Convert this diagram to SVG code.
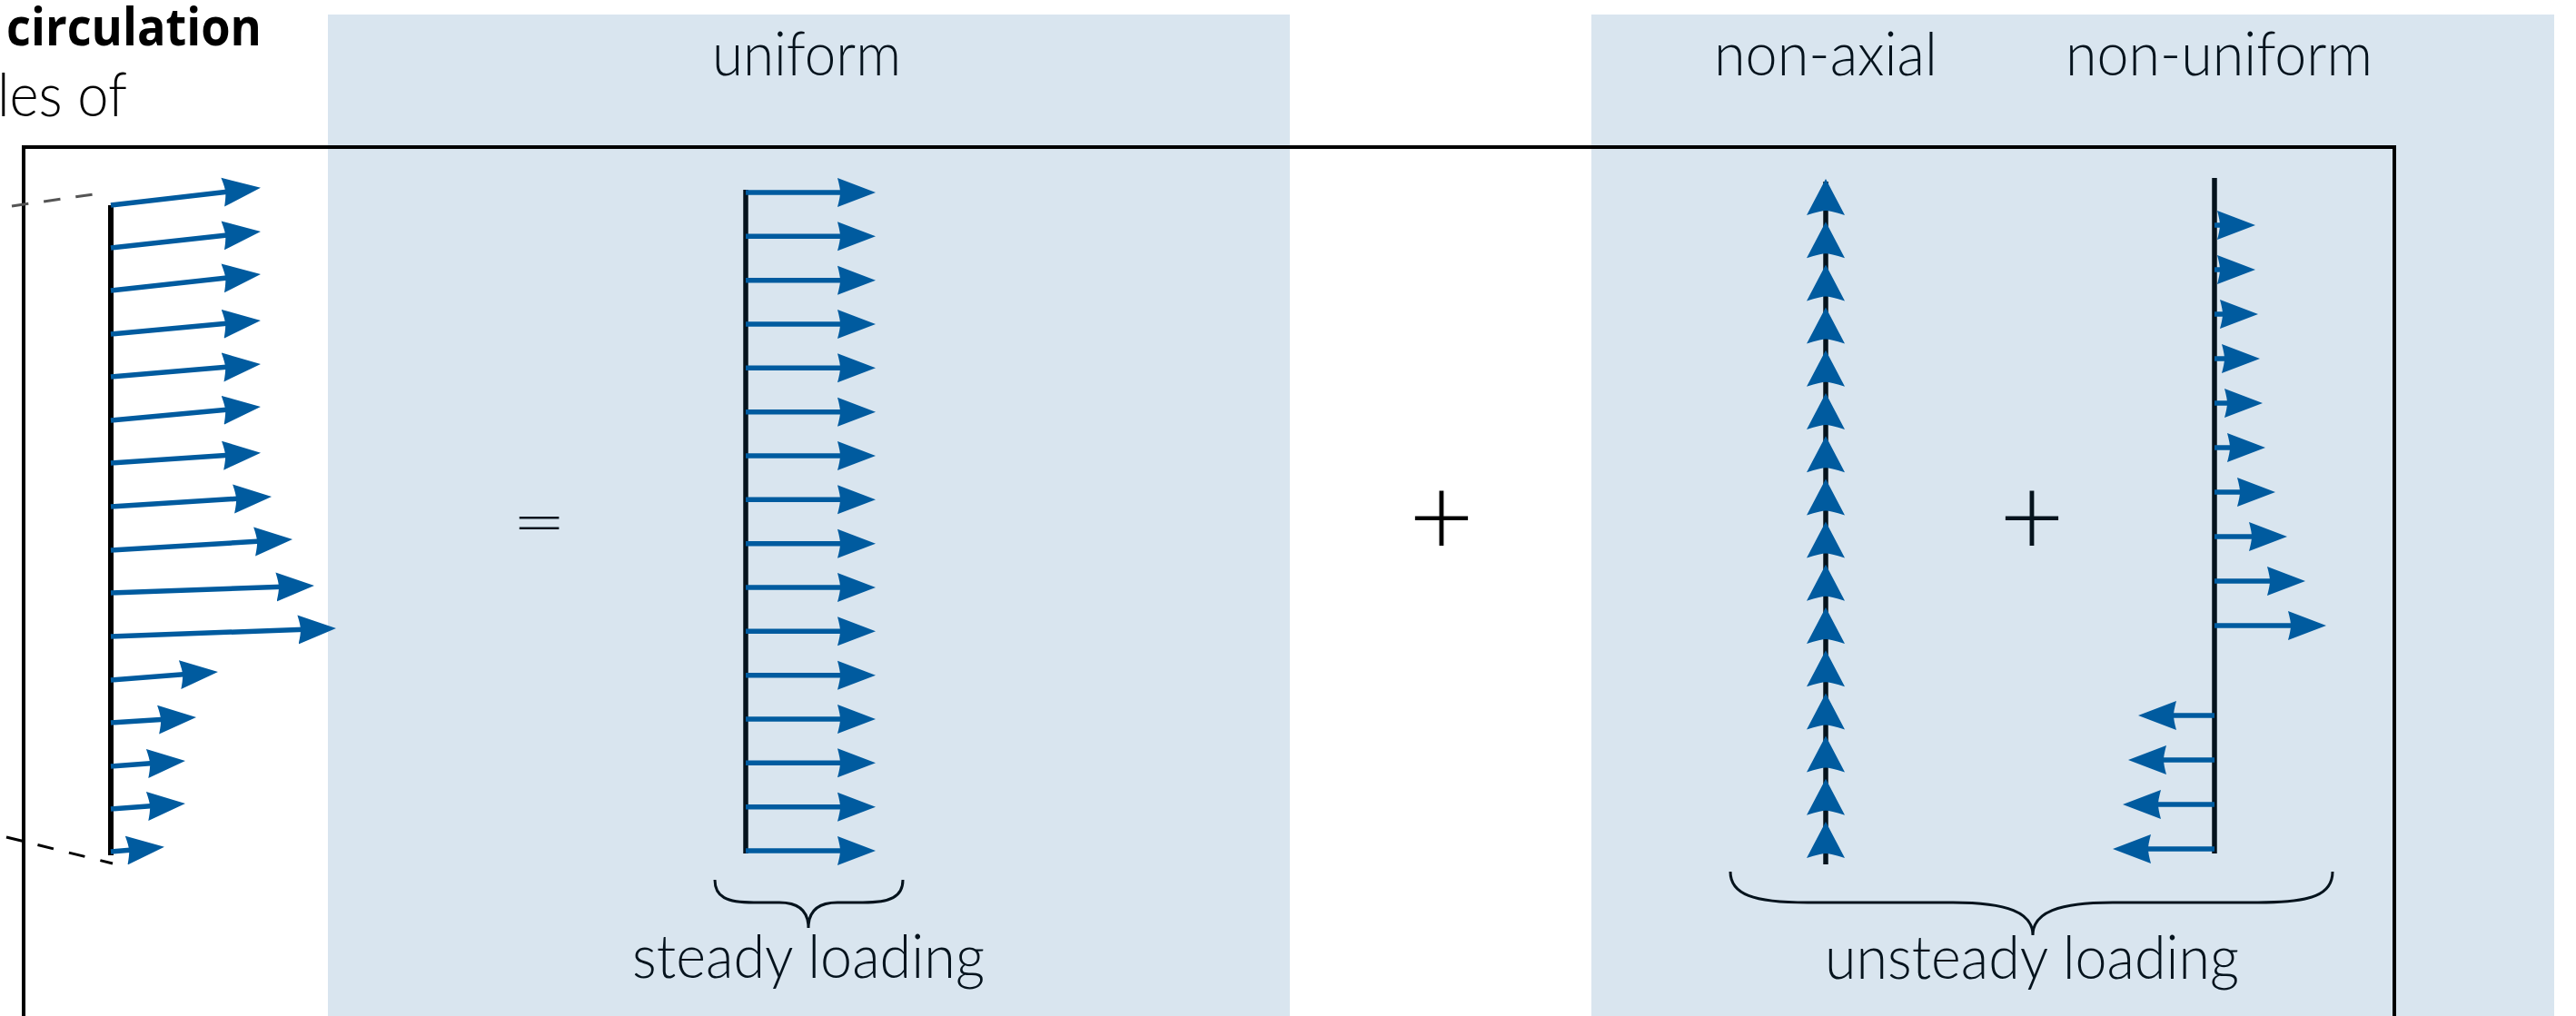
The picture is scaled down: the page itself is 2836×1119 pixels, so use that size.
<svg xmlns="http://www.w3.org/2000/svg" xmlns:xlink="http://www.w3.org/1999/xlink" width="2836" height="1119" viewBox="0 0 2836 1119">
<style>
.shade{fill:#d9e5ef}
.lbl{font-family:Lato,"Open Sans","Liberation Sans",sans-serif;font-weight:300;font-size:67px;fill:#05131d}
.ttl{font-family:"Open Sans","Noto Sans","Liberation Sans",sans-serif;font-weight:700;font-size:57px;fill:#000}
.op{font-family:Lato,"Open Sans","Liberation Sans",sans-serif;font-weight:300;fill:#000}
.axis{stroke:#000;stroke-width:6;fill:none}
.axisd{stroke:#05131d;stroke-width:5.5;fill:none}
.arr{stroke:#005b9f;stroke-width:5.5;fill:none;marker-end:url(#ah)}
.brace{stroke:#05131d;stroke-width:3;fill:none}
.vh{fill:#005b9f}
</style>
<defs>
<marker id="ah" markerUnits="userSpaceOnUse" viewBox="0 -17 43 34" markerWidth="43" markerHeight="34" refX="7" refY="0" orient="auto">
<path d="M42,0 L0,-16 Q3,-5 3,0 Q3,5 0,16 Z" fill="#005b9f"/>
</marker>
<path id="vh" d="M0,0 L21,40 Q5,35 0,35 Q-5,35 -21,40 Z"/>
</defs>

<g id="panels">
<rect id="panel-steady" class="shade" x="361" y="16" width="1059" height="1110"/>
<rect id="panel-unsteady" class="shade" x="1752" y="16" width="1060" height="1110"/>
</g>

<g id="frame">
<rect x="26" y="162" width="2610" height="990" fill="none" stroke="#000" stroke-width="4"/>
</g>

<g id="title">
<text class="ttl" x="7" y="50" textLength="281" lengthAdjust="spacingAndGlyphs">circulation</text>
<text class="lbl" x="-3" y="128" style="fill:#000" textLength="143" lengthAdjust="spacingAndGlyphs">les of</text>
</g>

<g id="labels">
<text class="lbl" x="888" y="83" text-anchor="middle" textLength="208" lengthAdjust="spacingAndGlyphs">uniform</text>
<text class="lbl" x="2010" y="83" text-anchor="middle" textLength="246" lengthAdjust="spacingAndGlyphs">non-axial</text>
<text class="lbl" x="2443" y="83" text-anchor="middle" textLength="338" lengthAdjust="spacingAndGlyphs">non-uniform</text>
<text class="lbl" x="890" y="1077" text-anchor="middle" textLength="388" lengthAdjust="spacingAndGlyphs">steady loading</text>
<text class="lbl" x="2237" y="1078" text-anchor="middle" textLength="456" lengthAdjust="spacingAndGlyphs">unsteady loading</text>
</g>

<g id="operators">
<text x="593.5" y="610" text-anchor="middle" font-size="95" transform="translate(0,574.5) scale(1,0.6) translate(0,-574.5)" style="fill:#05131d;font-family:'Open Sans',sans-serif;font-weight:300">=</text>
<text class="op" x="1587" y="613" text-anchor="middle" font-size="124">+</text>
<text class="op" x="2237" y="613" text-anchor="middle" font-size="124" style="fill:#05131d">+</text>
</g>

<g id="profile-total">
<line class="axis" x1="122" y1="226" x2="122" y2="942"/>
<line class="arr" x1="122" y1="226" x2="252.2" y2="210.9"/>
<line class="arr" x1="122" y1="273" x2="252.2" y2="258.7"/>
<line class="arr" x1="122" y1="320" x2="252.2" y2="305.7"/>
<line class="arr" x1="122" y1="368" x2="252.1" y2="356.1"/>
<line class="arr" x1="122" y1="415" x2="252.1" y2="403.9"/>
<line class="arr" x1="122" y1="463" x2="252.1" y2="451.1"/>
<line class="arr" x1="122" y1="510" x2="252.1" y2="501.2"/>
<line class="arr" x1="122" y1="558" x2="264.1" y2="549.1"/>
<line class="arr" x1="122" y1="606" x2="287.1" y2="596.0"/>
<line class="arr" x1="122" y1="653" x2="311.0" y2="646.2"/>
<line class="arr" x1="122" y1="701" x2="335.0" y2="693.2"/>
<line class="arr" x1="122" y1="749" x2="205.1" y2="742.6"/>
<line class="arr" x1="122" y1="796" x2="181.1" y2="792.2"/>
<line class="arr" x1="122" y1="844" x2="169.1" y2="840.5"/>
<line class="arr" x1="122" y1="891" x2="169.1" y2="887.5"/>
<line class="arr" x1="122" y1="938" x2="146.1" y2="935.9"/>
</g>

<g id="profile-uniform">
<line class="axisd" x1="821" y1="209" x2="821" y2="940"/>
<line class="arr" x1="821" y1="212" x2="929" y2="212"/>
<line class="arr" x1="821" y1="260.3" x2="929" y2="260.3"/>
<line class="arr" x1="821" y1="308.7" x2="929" y2="308.7"/>
<line class="arr" x1="821" y1="357" x2="929" y2="357"/>
<line class="arr" x1="821" y1="405.3" x2="929" y2="405.3"/>
<line class="arr" x1="821" y1="453.7" x2="929" y2="453.7"/>
<line class="arr" x1="821" y1="502" x2="929" y2="502"/>
<line class="arr" x1="821" y1="550.3" x2="929" y2="550.3"/>
<line class="arr" x1="821" y1="598.7" x2="929" y2="598.7"/>
<line class="arr" x1="821" y1="647" x2="929" y2="647"/>
<line class="arr" x1="821" y1="695.3" x2="929" y2="695.3"/>
<line class="arr" x1="821" y1="743.7" x2="929" y2="743.7"/>
<line class="arr" x1="821" y1="792" x2="929" y2="792"/>
<line class="arr" x1="821" y1="840.3" x2="929" y2="840.3"/>
<line class="arr" x1="821" y1="888.7" x2="929" y2="888.7"/>
<line class="arr" x1="821" y1="937" x2="929" y2="937"/>
</g>

<g id="profile-nonaxial">
<line class="axisd" x1="2010" y1="200" x2="2010" y2="952"/>
<g class="vh">
<use xlink:href="#vh" x="2010" y="197"/>
<use xlink:href="#vh" x="2010" y="244.2"/>
<use xlink:href="#vh" x="2010" y="291.4"/>
<use xlink:href="#vh" x="2010" y="338.6"/>
<use xlink:href="#vh" x="2010" y="385.8"/>
<use xlink:href="#vh" x="2010" y="433"/>
<use xlink:href="#vh" x="2010" y="480.2"/>
<use xlink:href="#vh" x="2010" y="527.4"/>
<use xlink:href="#vh" x="2010" y="574.6"/>
<use xlink:href="#vh" x="2010" y="621.8"/>
<use xlink:href="#vh" x="2010" y="669"/>
<use xlink:href="#vh" x="2010" y="716.2"/>
<use xlink:href="#vh" x="2010" y="763.4"/>
<use xlink:href="#vh" x="2010" y="810.6"/>
<use xlink:href="#vh" x="2010" y="857.8"/>
<use xlink:href="#vh" x="2010" y="905"/>
</g>
</g>

<g id="profile-nonuniform">
<line class="axisd" x1="2438" y1="196" x2="2438" y2="940"/>
<line class="arr" x1="2438" y1="248" x2="2448" y2="248"/>
<line class="arr" x1="2438" y1="297" x2="2448" y2="297"/>
<line class="arr" x1="2438" y1="346" x2="2451" y2="346"/>
<line class="arr" x1="2438" y1="395" x2="2453" y2="395"/>
<line class="arr" x1="2438" y1="444" x2="2456" y2="444"/>
<line class="arr" x1="2438" y1="493" x2="2459" y2="493"/>
<line class="arr" x1="2438" y1="542" x2="2470" y2="542"/>
<line class="arr" x1="2438" y1="591" x2="2483" y2="591"/>
<line class="arr" x1="2438" y1="640" x2="2503" y2="640"/>
<line class="arr" x1="2438" y1="689" x2="2526" y2="689"/>
<line class="arr" x1="2438" y1="788" x2="2389" y2="788"/>
<line class="arr" x1="2438" y1="837" x2="2378" y2="837"/>
<line class="arr" x1="2438" y1="886" x2="2372" y2="886"/>
<line class="arr" x1="2438" y1="935" x2="2361" y2="935"/>
</g>

<g id="connectors">
<line x1="13" y1="227" x2="103" y2="214" stroke="#555" stroke-width="3" stroke-dasharray="18.5 17"/>
<line x1="7" y1="922" x2="124" y2="951" stroke="#000" stroke-width="3" stroke-dasharray="18 17.5"/>
<path class="brace" d="M787,969 C787,988 800,994 830,994 L858,994 C880,994 890,1004 890,1022 C890,1004 900,994 922,994 L950,994 C980,994 994,988 994,969"/>
<path class="brace" d="M1905,960 C1905,985 1930,994 1990,994 L2150,994 C2210,994 2238,1005 2238,1030 C2238,1005 2266,994 2326,994 L2486,994 C2546,994 2568,985 2568,960"/>
</g>
</svg>
